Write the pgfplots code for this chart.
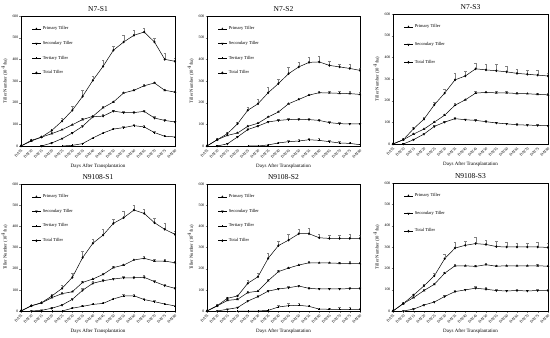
\documentclass[border=0pt]{standalone}
\usepackage{pgfplots}
\pgfplotsset{compat=1.18}
\usepackage{pgfplotstable}
\usepackage{fontspec}
\setmainfont{Liberation Serif}

% N7-S1
\pgfplotstableread{
x p pe s se t te tot tote
0 0 0 nan 0 nan 0 0 0
1 23 3 nan 0 nan 0 26 5
2 41 3 0 0 nan 0 41 5
3 57 5 14 3 nan 0 72 8
4 75 5 34 4 0 0 115 12
5 98 5 60 5 3 2 165 20
6 122 6 91 6 11 3 229 28
7 137 5 135 6 37 5 303 20
8 177 5 138 8 60 5 368 30
9 203 5 161 5 78 6 442 20
10 245 5 154 6 85 5 480 30
11 257 5 154 6 94 5 511 25
12 278 8 160 6 88 8 526 20
13 291 5 129 8 62 8 480 20
14 257 5 118 5 45 5 400 30
15 249 5 111 5 42 5 391 15
}\tA
% N7-S2
\pgfplotstableread{
x p pe s se t te tot tote
0 0 0 nan 0 nan 0 0 0
1 29 3 0 0 nan 0 29 8
2 49 3 10 2 nan 0 57 8
3 60 4 42 3 nan 0 103 6
4 91 5 76 5 0 0 165 15
5 105 6 92 5 0 0 195 20
6 134 6 111 5 5 2 246 25
7 157 5 118 6 14 5 288 20
8 195 5 122 6 20 8 334 30
9 215 5 123 6 23 8 365 20
10 235 5 122 6 29 8 386 25
11 246 8 118 6 26 8 388 25
12 245 8 108 6 20 8 372 20
13 243 8 103 5 14 10 365 15
14 242 10 102 5 12 6 358 20
15 238 10 102 5 6 3 349 10
}\tB
% N7-S3
\pgfplotstableread{
x p pe s se tot tote
0 0 0 nan 0 0 0
1 20 3 0 0 20 5
2 46 4 20 3 71 5
3 69 4 46 4 115 8
4 101 5 81 5 181 12
5 133 6 101 5 235 20
6 179 8 117 8 296 30
7 204 5 112 5 314 20
8 235 8 109 8 347 25
9 238 5 103 5 342 25
10 236 6 97 5 338 30
11 236 6 93 5 333 25
12 233 6 89 5 326 20
13 232 5 87 5 322 20
14 229 8 86 5 318 25
15 227 8 84 5 314 15
}\tC
% N9108-S1
\pgfplotstableread{
x p pe s se t te tot tote
0 0 0 nan 0 nan 0 0 0
1 24 3 0 0 nan 0 25 5
2 38 3 3 2 nan 0 39 5
3 63 4 13 3 0 0 71 8
4 82 8 28 5 0 0 107 15
5 91 5 55 5 13 3 159 20
6 135 8 98 8 22 8 252 30
7 151 5 131 8 31 5 320 20
8 173 5 143 6 36 5 359 30
9 205 6 151 6 57 5 414 20
10 217 5 157 6 71 10 441 30
11 241 6 157 6 72 8 477 25
12 249 10 159 10 54 5 461 20
13 236 8 139 5 44 5 417 20
14 236 10 120 5 33 5 386 30
15 228 8 107 5 24 5 362 15
}\tD
% N9108-S2
\pgfplotstableread{
x p pe s se t te tot tote
0 0 0 nan 0 nan 0 0 0
1 24 3 0 0 nan 0 25 6
2 50 4 8 2 nan 0 60 6
3 55 4 16 3 0 0 71 6
4 87 6 47 5 0 0 131 15
5 94 5 68 5 0 0 162 15
6 143 6 94 5 3 2 249 25
7 186 5 104 6 19 8 309 20
8 203 6 110 6 25 12 335 30
9 217 5 118 6 27 12 365 20
10 228 6 107 6 22 8 365 25
11 227 6 104 5 9 6 346 15
12 227 6 104 5 8 6 343 15
13 225 5 104 5 8 8 343 15
14 225 10 106 5 8 8 343 20
15 225 8 106 5 8 6 343 15
}\tE
% N9108-S3
\pgfplotstableread{
x p pe s se tot tote
0 0 0 nan 0 0 0
1 35 3 0 0 35 5
2 63 4 9 3 75 6
3 96 5 28 4 118 8
4 125 6 42 5 165 12
5 177 6 68 5 245 20
6 212 6 91 8 295 30
7 212 5 99 5 308 20
8 209 5 107 8 316 30
9 217 6 102 8 312 20
10 210 6 96 8 302 25
11 212 5 94 5 300 25
12 212 5 96 8 300 20
13 212 5 94 5 300 20
14 212 8 96 5 300 25
15 210 5 96 5 298 20
}\tF

\pgfplotsset{
 panel/.style={
  scale only axis, width=154pt, height=130pt,
  xmin=0, xmax=15, ymin=0, ymax=600, ytick={0,100,...,600},
  xtick={0,...,15},
  xticklabels={DAT5,DAT10,DAT15,DAT20,DAT25,DAT30,DAT35,DAT40,DAT45,DAT50,DAT55,DAT60,DAT65,DAT70,DAT75,DAT80},
  xtick pos=left, ytick pos=left, tick align=outside, major tick length=1.5pt,
  /pgf/number format/assume math mode=true,
  tick label style={font=\fontsize{3.8}{4}\selectfont, inner sep=1pt},
  x tick label style={rotate=45, anchor=north east},
  xlabel={Days After Transplantation},
  ylabel={Tiller Number (10$^4$/ha)},
  xlabel style={font=\fontsize{5}{6}\selectfont, at={(axis description cs:0.5,-0.14)}, anchor=north, inner sep=0pt},
  ylabel style={font=\fontsize{4.6}{5}\selectfont, at={(axis description cs:-0.085,0.5)}, anchor=south, inner sep=0pt},
  title style={font=\fontsize{7.5}{8}\selectfont, at={(axis description cs:0.5,1)}, anchor=south, inner sep=0pt, yshift=-1.5pt},
  axis line style={line width=0.4pt},
  every axis plot/.append style={line width=0.5pt, black, mark size=1pt},
  legend style={draw=none, fill=none, font=\fontsize{4.5}{5}\selectfont, at={(0.05,0.95)}, anchor=north west, row sep=6pt, cells={anchor=west}},
  legend image code/.code={\draw[mark repeat=2,mark phase=2] plot coordinates {(0cm,0cm) (0.15cm,0cm) (0.3cm,0cm)};},
  error bars/y dir=plus, error bars/y explicit,
  error bars/error bar style={line width=0.3pt, gray},
  error bars/error mark options={rotate=90, mark size=1.2pt, gray, line width=0.3pt},
 },
 three/.style={legend style={row sep=9pt}},
 pP/.style={mark=triangle, mark options={solid}},
 pS/.style={mark=triangle*, mark options={rotate=180, solid}},
 pT/.style={mark=+, mark options={solid}},
 pTot/.style={mark=diamond*, mark options={solid}},
}

\begin{document}
\begin{tikzpicture}
\useasboundingbox (0,0) rectangle (550pt,338pt);
% Row 1
\begin{axis}[panel, at={(21pt,192pt)}, anchor=south west, title={N7-S1}]
\addplot[pP] table[x=x, y=p, y error=pe] {\tA}; \addlegendentry{Primary Tiller}
\addplot[pS] table[x=x, y=s, y error=se] {\tA}; \addlegendentry{Secondary Tiller}
\addplot[pT] table[x=x, y=t, y error=te] {\tA}; \addlegendentry{Tertiary Tiller}
\addplot[pTot] table[x=x, y=tot, y error=tote] {\tA}; \addlegendentry{Total Tiller}
\end{axis}
\begin{axis}[panel, width=153pt, at={(207pt,192pt)}, anchor=south west, title={N7-S2}]
\addplot[pP] table[x=x, y=p, y error=pe] {\tB}; \addlegendentry{Primary Tiller}
\addplot[pS] table[x=x, y=s, y error=se] {\tB}; \addlegendentry{Secondary Tiller}
\addplot[pT] table[x=x, y=t, y error=te] {\tB}; \addlegendentry{Tertiary Tiller}
\addplot[pTot] table[x=x, y=tot, y error=tote] {\tB}; \addlegendentry{Total Tiller}
\end{axis}
\begin{axis}[panel, three, width=155pt, at={(393pt,194pt)}, anchor=south west, title={N7-S3}]
\addplot[pP] table[x=x, y=p, y error=pe] {\tC}; \addlegendentry{Primary Tiller}
\addplot[pS] table[x=x, y=s, y error=se] {\tC}; \addlegendentry{Secondary Tiller}
\addplot[pTot] table[x=x, y=tot, y error=tote] {\tC}; \addlegendentry{Total Tiller}
\end{axis}
% Row 2
\begin{axis}[panel, height=127pt, at={(21pt,27pt)}, anchor=south west, title={N9108-S1}]
\addplot[pP] table[x=x, y=p, y error=pe] {\tD}; \addlegendentry{Primary Tiller}
\addplot[pS] table[x=x, y=s, y error=se] {\tD}; \addlegendentry{Secondary Tiller}
\addplot[pT] table[x=x, y=t, y error=te] {\tD}; \addlegendentry{Tertiary Tiller}
\addplot[pTot] table[x=x, y=tot, y error=tote] {\tD}; \addlegendentry{Total Tiller}
\end{axis}
\begin{axis}[panel, width=153pt, height=127pt, at={(207pt,27pt)}, anchor=south west, title={N9108-S2}]
\addplot[pP] table[x=x, y=p, y error=pe] {\tE}; \addlegendentry{Primary Tiller}
\addplot[pS] table[x=x, y=s, y error=se] {\tE}; \addlegendentry{Secondary Tiller}
\addplot[pT] table[x=x, y=t, y error=te] {\tE}; \addlegendentry{Tertiary Tiller}
\addplot[pTot] table[x=x, y=tot, y error=tote] {\tE}; \addlegendentry{Total Tiller}
\end{axis}
\begin{axis}[panel, three, width=155pt, height=128pt, at={(393pt,27pt)}, anchor=south west, title={N9108-S3}]
\addplot[pP] table[x=x, y=p, y error=pe] {\tF}; \addlegendentry{Primary Tiller}
\addplot[pS] table[x=x, y=s, y error=se] {\tF}; \addlegendentry{Secondary Tiller}
\addplot[pTot] table[x=x, y=tot, y error=tote] {\tF}; \addlegendentry{Total Tiller}
\end{axis}
\end{tikzpicture}
\end{document}
